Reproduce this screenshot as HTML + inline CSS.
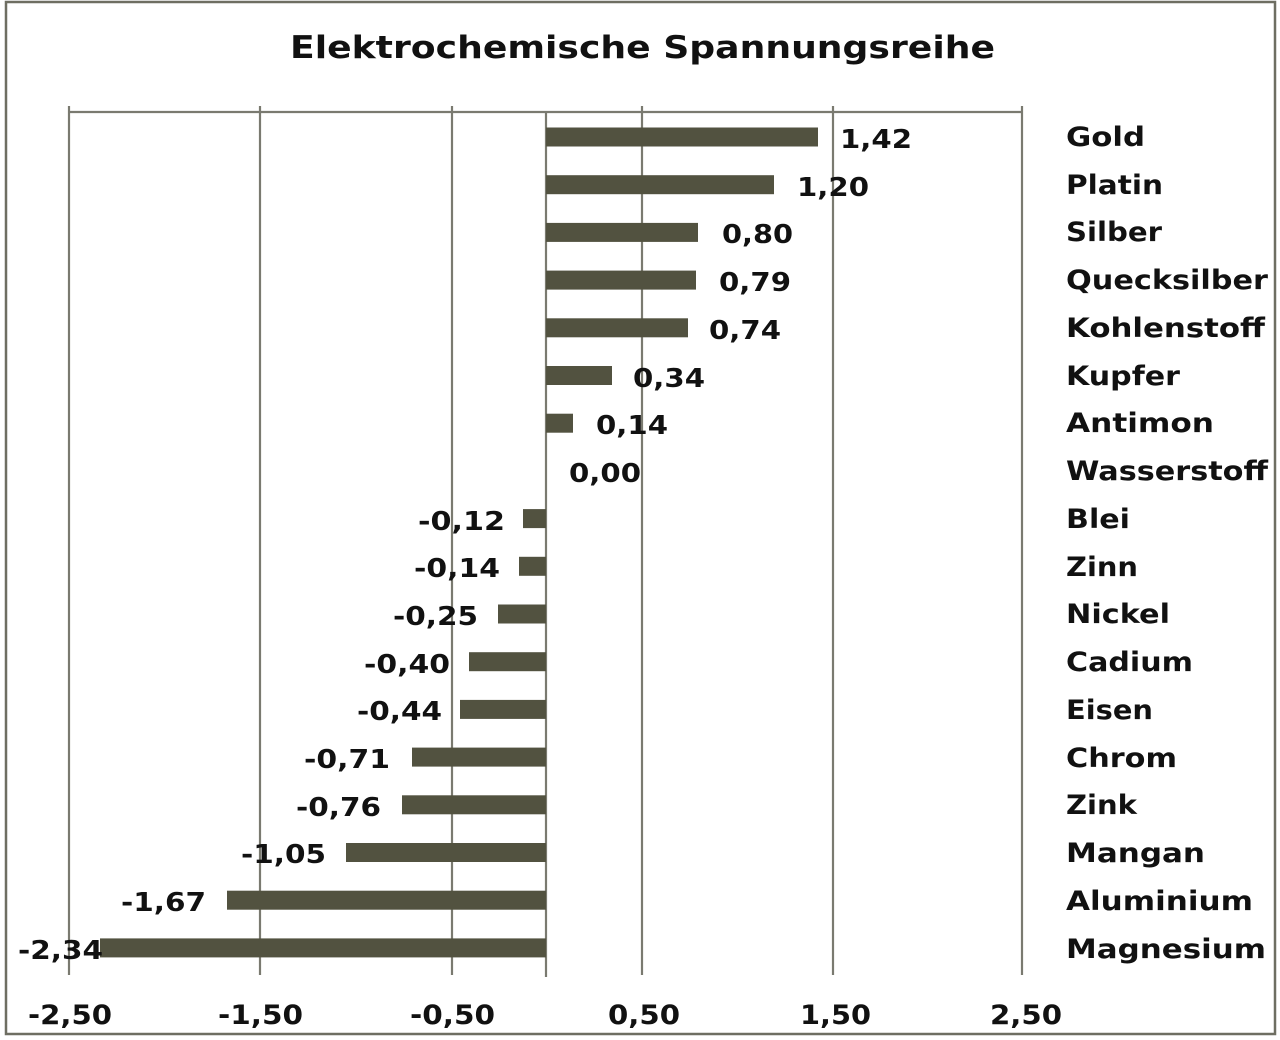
<!DOCTYPE html>
<html><head><meta charset="utf-8"><style>
html,body{margin:0;padding:0;background:#fff;}
svg{display:block;}
text{font-family:"DejaVu Sans","Liberation Sans",sans-serif;font-weight:bold;fill:#111;}
</style></head><body>
<svg width="1280" height="1040" viewBox="0 0 1280 1040" xmlns="http://www.w3.org/2000/svg">
<rect x="6" y="2" width="1269" height="1032" fill="#fff" stroke="#6e6e62" stroke-width="2.5"/>
<text x="290" y="58" font-size="31" textLength="705" lengthAdjust="spacingAndGlyphs">Elektrochemische Spannungsreihe</text>
<g stroke="#7a7a70" stroke-width="2.2">
<line x1="68" y1="112" x2="1022" y2="112"/>
<line x1="69" y1="106" x2="69" y2="975"/>
<line x1="260" y1="106" x2="260" y2="975"/>
<line x1="452" y1="106" x2="452" y2="975"/>
<line x1="642" y1="106" x2="642" y2="975"/>
<line x1="833" y1="106" x2="833" y2="975"/>
<line x1="1022" y1="106" x2="1022" y2="975"/>
<line x1="546" y1="112" x2="546" y2="977"/>
</g>
<g fill="#525240">
<rect x="546" y="127.5" width="272" height="19"/>
<rect x="546" y="175.2" width="228" height="19"/>
<rect x="546" y="222.9" width="152" height="19"/>
<rect x="546" y="270.6" width="150" height="19"/>
<rect x="546" y="318.3" width="142" height="19"/>
<rect x="546" y="366" width="66" height="19"/>
<rect x="546" y="413.7" width="27" height="19"/>
<rect x="523" y="509.1" width="23" height="19"/>
<rect x="519" y="556.8" width="27" height="19"/>
<rect x="498" y="604.5" width="48" height="19"/>
<rect x="469" y="652.2" width="77" height="19"/>
<rect x="460" y="699.9" width="86" height="19"/>
<rect x="412" y="747.6" width="134" height="19"/>
<rect x="402" y="795.3" width="144" height="19"/>
<rect x="346" y="843" width="200" height="19"/>
<rect x="227" y="890.7" width="319" height="19"/>
<rect x="100" y="938.4" width="446" height="19"/>
</g>
<g font-size="26">
<text x="840" y="148" textLength="72" lengthAdjust="spacingAndGlyphs">1,42</text>
<text x="797" y="196" textLength="72" lengthAdjust="spacingAndGlyphs">1,20</text>
<text x="722" y="243" textLength="71" lengthAdjust="spacingAndGlyphs">0,80</text>
<text x="719" y="291" textLength="72" lengthAdjust="spacingAndGlyphs">0,79</text>
<text x="709" y="339" textLength="72" lengthAdjust="spacingAndGlyphs">0,74</text>
<text x="633" y="387" textLength="72" lengthAdjust="spacingAndGlyphs">0,34</text>
<text x="596" y="434" textLength="72" lengthAdjust="spacingAndGlyphs">0,14</text>
<text x="569" y="482" textLength="72" lengthAdjust="spacingAndGlyphs">0,00</text>
<text x="418" y="530" textLength="87" lengthAdjust="spacingAndGlyphs">-0,12</text>
<text x="414" y="577" textLength="86" lengthAdjust="spacingAndGlyphs">-0,14</text>
<text x="393" y="625" textLength="85" lengthAdjust="spacingAndGlyphs">-0,25</text>
<text x="364" y="673" textLength="86" lengthAdjust="spacingAndGlyphs">-0,40</text>
<text x="357" y="720" textLength="85" lengthAdjust="spacingAndGlyphs">-0,44</text>
<text x="304" y="768" textLength="86" lengthAdjust="spacingAndGlyphs">-0,71</text>
<text x="296" y="816" textLength="85" lengthAdjust="spacingAndGlyphs">-0,76</text>
<text x="241" y="863" textLength="85" lengthAdjust="spacingAndGlyphs">-1,05</text>
<text x="121" y="911" textLength="85" lengthAdjust="spacingAndGlyphs">-1,67</text>
<text x="18" y="959" textLength="85" lengthAdjust="spacingAndGlyphs">-2,34</text>
</g>
<g font-size="27">
<text x="1066" y="146" textLength="79" lengthAdjust="spacingAndGlyphs">Gold</text>
<text x="1066" y="194" textLength="97" lengthAdjust="spacingAndGlyphs">Platin</text>
<text x="1066" y="241" textLength="96" lengthAdjust="spacingAndGlyphs">Silber</text>
<text x="1066" y="289" textLength="202" lengthAdjust="spacingAndGlyphs">Quecksilber</text>
<text x="1066" y="337" textLength="199" lengthAdjust="spacingAndGlyphs">Kohlenstoff</text>
<text x="1066" y="385" textLength="114" lengthAdjust="spacingAndGlyphs">Kupfer</text>
<text x="1066" y="432" textLength="148" lengthAdjust="spacingAndGlyphs">Antimon</text>
<text x="1066" y="480" textLength="202" lengthAdjust="spacingAndGlyphs">Wasserstoff</text>
<text x="1066" y="528" textLength="64" lengthAdjust="spacingAndGlyphs">Blei</text>
<text x="1066" y="576" textLength="72" lengthAdjust="spacingAndGlyphs">Zinn</text>
<text x="1066" y="623" textLength="104" lengthAdjust="spacingAndGlyphs">Nickel</text>
<text x="1066" y="671" textLength="127" lengthAdjust="spacingAndGlyphs">Cadium</text>
<text x="1066" y="719" textLength="87" lengthAdjust="spacingAndGlyphs">Eisen</text>
<text x="1066" y="767" textLength="111" lengthAdjust="spacingAndGlyphs">Chrom</text>
<text x="1066" y="814" textLength="71" lengthAdjust="spacingAndGlyphs">Zink</text>
<text x="1066" y="862" textLength="139" lengthAdjust="spacingAndGlyphs">Mangan</text>
<text x="1066" y="910" textLength="187" lengthAdjust="spacingAndGlyphs">Aluminium</text>
<text x="1066" y="958" textLength="200" lengthAdjust="spacingAndGlyphs">Magnesium</text>
</g>
<g font-size="27">
<text x="28" y="1024" textLength="84" lengthAdjust="spacingAndGlyphs">-2,50</text>
<text x="218" y="1024" textLength="85" lengthAdjust="spacingAndGlyphs">-1,50</text>
<text x="410" y="1024" textLength="85" lengthAdjust="spacingAndGlyphs">-0,50</text>
<text x="608" y="1024" textLength="72" lengthAdjust="spacingAndGlyphs">0,50</text>
<text x="800" y="1024" textLength="71" lengthAdjust="spacingAndGlyphs">1,50</text>
<text x="990" y="1024" textLength="72" lengthAdjust="spacingAndGlyphs">2,50</text>
</g>
</svg>
</body></html>
